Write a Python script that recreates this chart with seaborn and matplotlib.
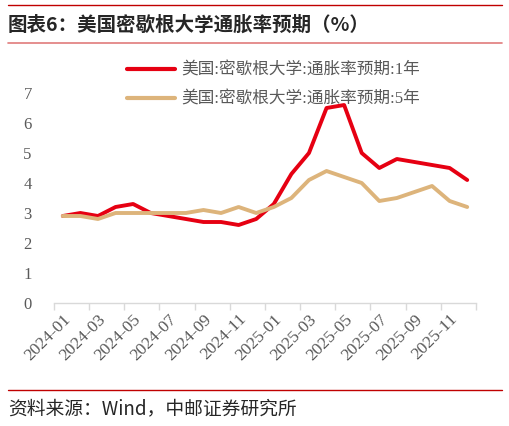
import numpy as np
import pandas as pd
import matplotlib
matplotlib.use("Agg")
import matplotlib.pyplot as plt
import seaborn as sns
from matplotlib.lines import Line2D

# 月份与数据
months = ['2024-01', '2024-02', '2024-03', '2024-04', '2024-05', '2024-06',
          '2024-07', '2024-08', '2024-09', '2024-10', '2024-11', '2024-12',
          '2025-01', '2025-02', '2025-03', '2025-04', '2025-05', '2025-06',
          '2025-07', '2025-08', '2025-09', '2025-10', '2025-11', '2025-12']
exp_1y = [2.9, 3.0, 2.9, 3.2, 3.3, 3.0, 2.9, 2.8, 2.7, 2.7, 2.6, 2.8,
          3.3, 4.3, 5.0, 6.5, 6.6, 5.0, 4.5, 4.8, 4.7, 4.6, 4.5, 4.1]
exp_5y = [2.9, 2.9, 2.8, 3.0, 3.0, 3.0, 3.0, 3.0, 3.1, 3.0, 3.2, 3.0,
          3.2, 3.5, 4.1, 4.4, 4.2, 4.0, 3.4, 3.5, 3.7, 3.9, 3.4, 3.2]
label_1y = '美国:密歇根大学:通胀率预期:1年'
label_5y = '美国:密歇根大学:通胀率预期:5年'

sns.set_style("white")
plt.rcParams['font.family'] = ['Liberation Serif', 'Noto Sans CJK SC', 'DejaVu Sans']

df = pd.DataFrame({'idx': np.arange(len(months)), '1y': exp_1y, '5y': exp_5y})

fig = plt.figure(figsize=(5.1, 4.26), dpi=100)
ax = fig.add_axes([54 / 510, 1 - 303 / 426, 422 / 510, 210 / 426])

red = '#E60012'
tan = '#DDB47B'
sns.lineplot(data=df, x='idx', y='1y', ax=ax, color=red, lw=2.8, legend=False)
sns.lineplot(data=df, x='idx', y='5y', ax=ax, color=tan, lw=2.8, legend=False)

ax.set_xlim(-0.5, len(months) - 0.5)
ax.set_ylim(0, 7)
ax.set_yticks(range(0, 8))
ax.set_xlabel('')
ax.set_ylabel('')

# 标签在类别中心，刻度线在类别边界
ax.set_xticks(np.arange(0, len(months), 2))
ax.set_xticklabels(months[::2], rotation=45, ha='right', va='top',
                   rotation_mode='anchor', fontsize=12.5, color='#595959')
ax.set_xticks(np.arange(-0.5, len(months), 2), minor=True)
ax.tick_params(axis='x', which='major', length=0, pad=6)
ax.tick_params(axis='x', which='minor', length=5, color='#D9D9D9', width=1, direction='out', bottom=True)
ax.tick_params(axis='y', length=0, labelsize=12, labelcolor='#595959', pad=16)

for s in ['top', 'right', 'left']:
    ax.spines[s].set_visible(False)
ax.spines['bottom'].set_color('#D9D9D9')
ax.spines['bottom'].set_linewidth(1)
ax.grid(False)

handles = [Line2D([], [], color=red, lw=3), Line2D([], [], color=tan, lw=3)]
fig.legend(handles, [label_1y, label_5y], loc='upper left',
           bbox_to_anchor=(112 / 510, 1 - 48 / 426), frameon=False,
           fontsize=12, labelcolor='#595959', handlelength=2.9,
           handletextpad=0.35, labelspacing=0.75)

# 标题与来源
fig.add_artist(Line2D([0.015, 0.985], [1 - 5 / 426, 1 - 5 / 426], color='#C00000', lw=1))
fig.text(8 / 510, 1 - 25 / 426, '图表6：美国密歇根大学通胀率预期（%）', fontsize=14,
         fontweight='bold', va='center', ha='left', family=['Noto Sans CJK SC'])
fig.add_artist(Line2D([0.015, 0.985], [1 - 43 / 426, 1 - 43 / 426], color='#E07B7B', lw=1.2))
fig.add_artist(Line2D([0.015, 0.985], [1 - 390 / 426, 1 - 390 / 426], color='#C00000', lw=1))
fig.text(8 / 510, 1 - 409 / 426, '资料来源：Wind，中邮证券研究所', fontsize=13.5,
         va='center', ha='left', family=['Noto Sans CJK SC'])

fig.savefig('out.png', dpi=100)
